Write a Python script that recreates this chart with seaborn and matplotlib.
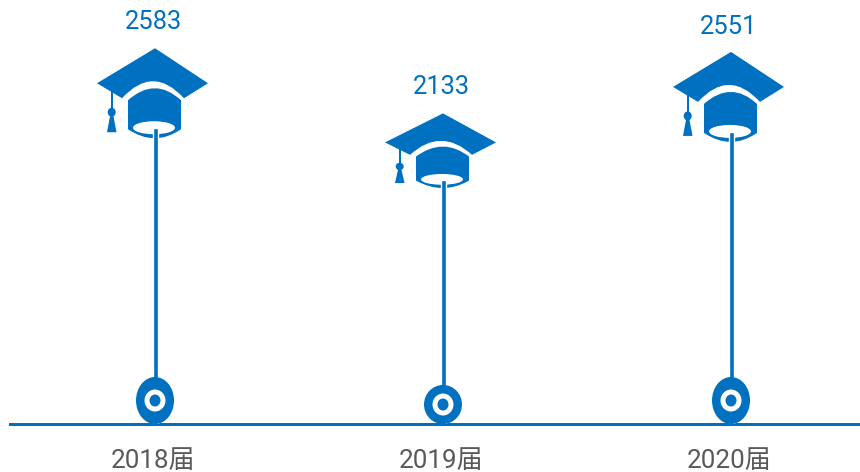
import matplotlib
matplotlib.use("Agg")
import matplotlib.pyplot as plt
import seaborn as sns
from matplotlib.path import Path
from matplotlib.patches import PathPatch, Ellipse
from matplotlib.transforms import Affine2D

# Data
categories = ["2018届", "2019届", "2020届"]
graduates = [2583, 2133, 2551]

# Styling per mark (pixels)
hat_y_scale = [1.0, 0.83, 1.0]
ring_heights = [47, 39, 47]
value_label_gap = [106, 93, 105]
value_label_shift = [-2, -2, -2]

BLUE = "#0070C0"
GREY = "#595959"
W, H, DPI = 860, 472, 100
BASE_PX = 424
PX_PER_UNIT = 0.1145
SPACING = 288
FIRST_X = 155

sns.set_theme(style="white")
plt.rcParams["font.family"] = ["Roboto", "Noto Sans CJK SC", "DejaVu Sans"]

fig = plt.figure(figsize=(W / DPI, H / DPI), dpi=DPI)
ax = fig.add_axes([0, (H - BASE_PX) / H, 1, BASE_PX / H])
ax.patch.set_alpha(0)

sns.barplot(x=categories, y=graduates, order=categories, color=BLUE, saturation=1,
            width=5 / SPACING, ax=ax, zorder=3)

ax.set_xlim(-FIRST_X / SPACING, (W - FIRST_X) / SPACING)
ax.set_ylim(0, BASE_PX / PX_PER_UNIT)
ax.set_yticks([])
ax.set_xlabel("")
ax.set_ylabel("")
sns.despine(ax=ax, left=True)
left_cat = (10 - FIRST_X) / SPACING
ax.spines["bottom"].set_bounds(left_cat, (W - FIRST_X) / SPACING)
ax.spines["bottom"].set_color(BLUE)
ax.spines["bottom"].set_linewidth(3 * 72 / DPI)
ax.spines["bottom"].set_zorder(2)
ax.tick_params(axis="x", length=0, pad=25 * 72 / DPI, labelsize=26 * 72 / DPI, labelcolor=GREY)
for lab in ax.get_xticklabels():
    lab.set_transform(lab.get_transform() + Affine2D().translate(-2, 0))

M, L, C3, Z = Path.MOVETO, Path.LINETO, Path.CURVE3, Path.CLOSEPOLY

# Cap board, with the arched underside
board = Path([(0, 80), (53, 45), (29, 30), (-2, 64), (-33, 30), (-58, 45), (0, 80)],
             [M, L, L, C3, C3, L, Z])
# Cap body, with the domed top and rounded bottom
body = Path([(-27, 28), (0, 52), (26, 28), (26, -1), (0, -19), (-27, -1), (-27, 28)],
            [M, C3, C3, L, C3, C3, Z])
# Tassel
tassel = Path([(-45, 12), (-41.5, 12), (-38.5, -4), (-48, -4), (-45, 12)], [M, L, L, L, Z])
string = Path([(-44.5, 37), (-42, 37), (-42, 14), (-44.5, 14), (-44.5, 37)], [M, L, L, L, Z])


def add(artist):
    artist.set_clip_on(False)
    ax.add_artist(artist)


fig.canvas.draw()
for i, v in enumerate(graduates):
    X, Y = ax.transData.transform((i, v))
    tr = Affine2D().scale(1, hat_y_scale[i]).translate(X, Y)
    for p in (board, body, tassel, string):
        a = PathPatch(p, facecolor=BLUE, edgecolor="none", transform=tr, zorder=2)
        add(a)
    add(Ellipse((-43.3, 16), 8, 9, facecolor=BLUE, edgecolor="none", transform=tr, zorder=2))
    add(Ellipse((-1, 0.5), 42, 13, facecolor="white", edgecolor="none", transform=tr, zorder=2.5))
    ax.annotate(str(v), (i, v), xytext=(value_label_shift[i], value_label_gap[i]),
                textcoords="offset pixels", ha="center", va="center",
                color=BLUE, fontsize=25.5 * 72 / DPI)

    # Base ring resting on the axis
    bx, by = ax.transData.transform((i, 0))
    h = ring_heights[i]
    rt = Affine2D().translate(bx, by + h / 2)
    add(Ellipse((0, 0), 38, h, facecolor=BLUE, edgecolor="none", transform=rt, zorder=4))
    add(Ellipse((0, 0), 21, 22, facecolor="white", edgecolor="none", transform=rt, zorder=5))
    add(Ellipse((0, 0), 11, 12, facecolor=BLUE, edgecolor="none", transform=rt, zorder=6))

fig.savefig("out.png", dpi=DPI)
